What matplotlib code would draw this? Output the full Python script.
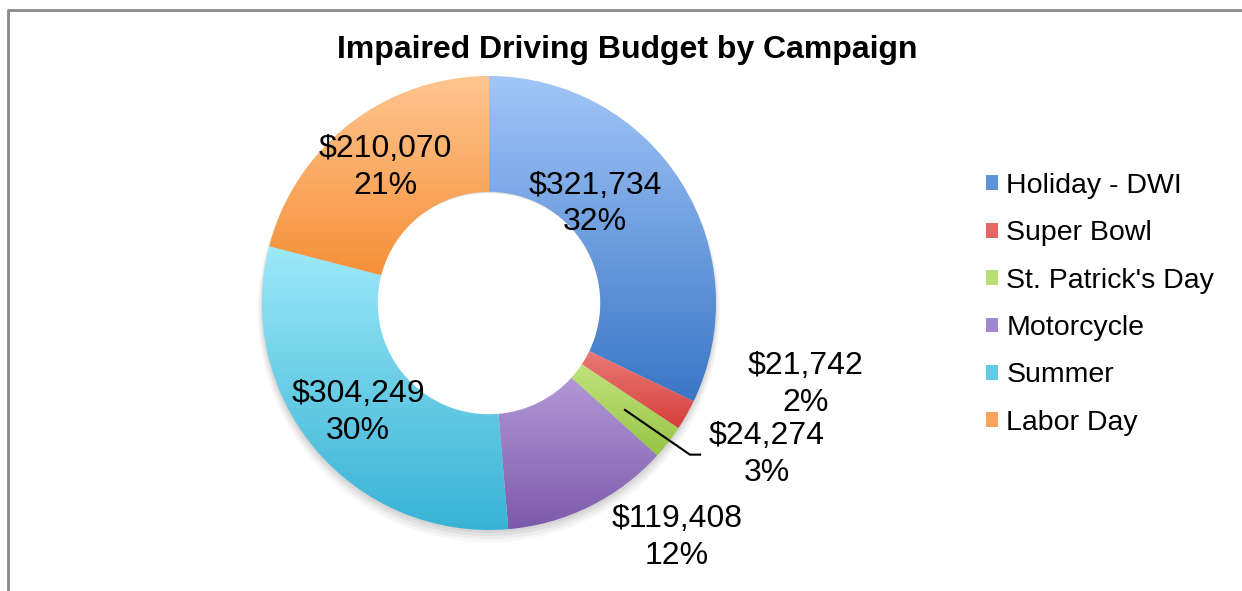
import matplotlib
matplotlib.use("Agg")
import matplotlib.pyplot as plt
import numpy as np
from matplotlib.colors import LinearSegmentedColormap
from matplotlib.patches import Patch, Wedge
from matplotlib.lines import Line2D

plt.rcParams['font.family'] = ['Liberation Sans', 'DejaVu Sans']

# ---- data ----
categories = ["Holiday - DWI", "Super Bowl", "St. Patrick's Day", "Motorcycle", "Summer", "Labor Day"]
values = [321734, 21742, 24274, 119408, 304249, 210070]
label_text = ["$321,734\n32%", "$21,742\n2%", "$24,274\n3%", "$119,408\n12%", "$304,249\n30%", "$210,070\n21%"]

# ---- style ----
top_colors = ["#A2C6F8", "#F7A09E", "#DDF7A8", "#CDB8EC", "#9DE9F8", "#FFC590"]
bot_colors = ["#3A76C6", "#D63F3C", "#97C543", "#7C5AAB", "#37B2D4", "#F4892C"]
mid_colors = ["#5E93DC", "#E46662", "#B7DE72", "#A286CF", "#5FCBE6", "#F9A45A"]
label_pos = [(0.467, 0.436), (1.396, -0.360), (1.225, -0.666), (0.828, -1.035), (-0.577, -0.482), (-0.458, 0.595)]

W, H = 1242, 591
fig = plt.figure(figsize=(W / 100, H / 100), dpi=100)
R_px = 227
cx, cy = 489, 303
half = 1.2 * R_px
ax = fig.add_axes([(cx - half) / W, (H - cy - half) / H, 2 * half / W, 2 * half / H])
ax.set_xlim(-1.2, 1.2)
ax.set_ylim(-1.2, 1.2)
ax.set_aspect('equal')
ax.axis('off')

# soft shadow
for i, a in enumerate([0.05, 0.05, 0.04, 0.03]):
    sh = Wedge((0, -0.012 - 0.008 * i), 1.0 + 0.006 * i, 0, 360, width=0.5, facecolor='#000000',
               edgecolor='none', alpha=a, zorder=0)
    ax.add_patch(sh)

wedges, _ = ax.pie(values, radius=1.0, startangle=90, counterclock=False,
                   wedgeprops=dict(width=0.51, edgecolor='none'))

for w, tc, bc in zip(wedges, top_colors, bot_colors):
    w.set_facecolor('none')
    verts = w.get_path().vertices
    x0, x1 = verts[:, 0].min(), verts[:, 0].max()
    y0, y1 = verts[:, 1].min(), verts[:, 1].max()
    cmap = LinearSegmentedColormap.from_list('g', [tc, bc])
    grad = np.linspace(0, 1, 256).reshape(-1, 1)
    im = ax.imshow(grad, cmap=cmap, extent=[x0, x1, y0, y1], origin='upper',
                   aspect='auto', zorder=1, interpolation='bicubic')
    im.set_clip_path(w)
ax.set_xlim(-1.2, 1.2)
ax.set_ylim(-1.2, 1.2)

for (x, y), t in zip(label_pos, label_text):
    ax.text(x, y, t, ha='center', va='center', fontsize=23, linespacing=1.3, zorder=5)

# leader line for St. Patrick's Day
ax.plot([0.599, 0.885, 0.93], [-0.471, -0.668, -0.668], color='black', lw=1.5, zorder=5)

fig.text(627 / W, 1 - 50 / H, "Impaired Driving Budget by Campaign", ha='center', va='center',
         fontsize=23, fontweight='bold')

handles = [Patch(facecolor=c, edgecolor='none') for c in mid_colors]
fig.legend(handles, categories, loc='upper left', bbox_to_anchor=(986 / W, 1 - 173 / H),
           frameon=False, fontsize=20.5, handlelength=0.42, handleheight=0.42,
           handletextpad=0.3, labelspacing=0.75, borderaxespad=0, borderpad=0)

# chart border
fig.add_artist(Line2D([8 / W, 8 / W, 1.0], [0, 1 - 10 / H, 1 - 10 / H], transform=fig.transFigure,
                      color='#8A8A8A', lw=2))

fig.savefig("out.png", dpi=100)
